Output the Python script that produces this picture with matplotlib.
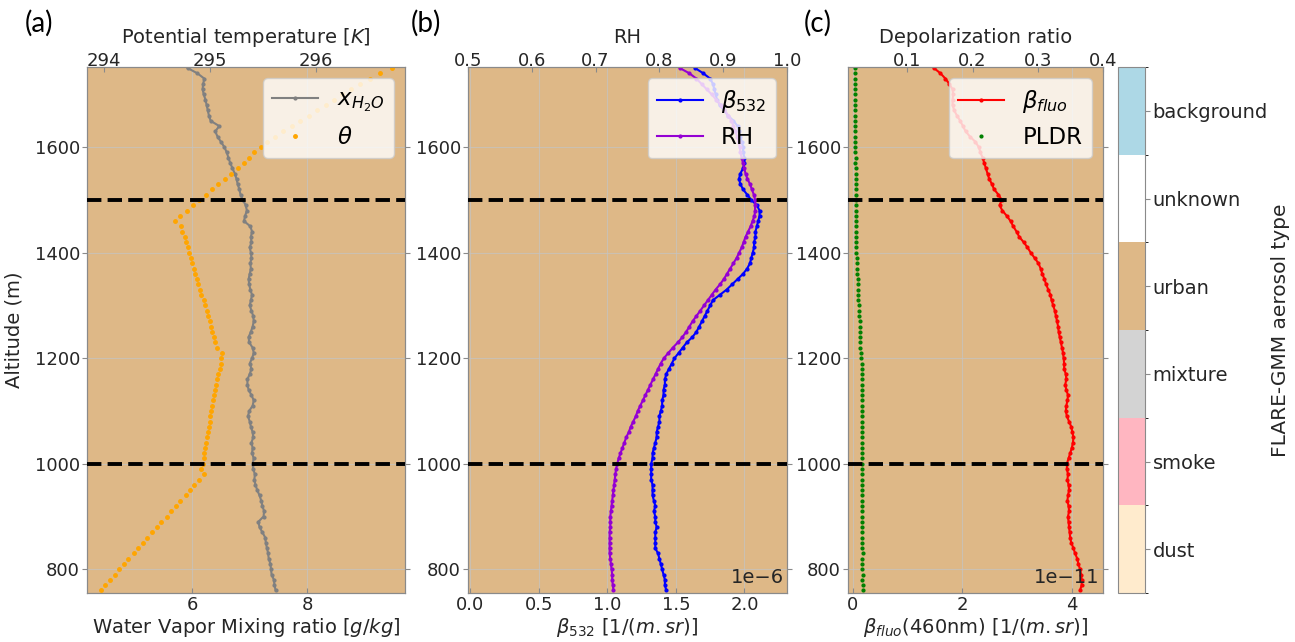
import numpy as np
import matplotlib
matplotlib.use("Agg")
import matplotlib.pyplot as plt
from matplotlib.colors import ListedColormap, BoundaryNorm
from matplotlib.cm import ScalarMappable

# ---------------- data ----------------
altitude_m = np.arange(760, 1751, 10)

water_vapor_gkg = [
    7.45, 7.43, 7.42, 7.38, 7.37, 7.36, 7.33, 7.32, 7.30, 7.28,
    7.27, 7.22, 7.17, 7.15, 7.24, 7.25, 7.22, 7.20, 7.17, 7.13,
    7.10, 7.08, 7.09, 7.06, 7.05, 7.07, 7.04, 7.05, 7.03, 7.06,
    7.05, 7.02, 7.00, 6.97, 6.99, 7.05, 7.07, 7.03, 6.98, 6.96,
    6.96, 7.00, 7.03, 7.00, 7.04, 7.07, 7.05, 6.99, 6.98, 7.02,
    7.05, 7.07, 7.06, 7.03, 7.00, 7.02, 7.04, 7.01, 6.99, 6.98,
    7.00, 7.02, 7.01, 7.03, 7.02, 7.00, 7.03, 7.02, 7.04, 7.01,
    6.90, 6.92, 6.95, 6.93, 6.88, 6.84, 6.82, 6.79, 6.77, 6.74,
    6.70, 6.66, 6.63, 6.60, 6.56, 6.50, 6.44, 6.40, 6.47, 6.32,
    6.29, 6.27, 6.25, 6.23, 6.20, 6.18, 6.19, 6.21, 6.09, 5.92,
]

theta_K = [
    293.97, 294.01, 294.06, 294.10, 294.14, 294.19, 294.23, 294.28, 294.32, 294.37,
    294.41, 294.45, 294.50, 294.54, 294.59, 294.63, 294.68, 294.72, 294.77, 294.81,
    294.85, 294.90, 294.94, 294.92, 294.93, 294.94, 294.94, 294.95, 294.96, 294.97,
    294.98, 294.99, 295.00, 295.00, 295.01, 295.02, 295.03, 295.04, 295.05, 295.06,
    295.07, 295.08, 295.09, 295.10, 295.10, 295.11, 295.07, 295.05, 295.04, 295.02,
    295.01, 295.00, 294.98, 294.97, 294.95, 294.94, 294.92, 294.91, 294.89, 294.88,
    294.86, 294.85, 294.83, 294.82, 294.80, 294.79, 294.77, 294.76, 294.74, 294.73,
    294.67, 294.72, 294.78, 294.84, 294.90, 294.96, 295.02, 295.08, 295.14, 295.20,
    295.26, 295.32, 295.37, 295.42, 295.48, 295.54, 295.61, 295.69, 295.77, 295.85,
    295.93, 296.01, 296.09, 296.17, 296.25, 296.33, 296.42, 296.51, 296.60, 296.72,
]

beta532_e6 = [
    1.43, 1.42, 1.42, 1.41, 1.40, 1.39, 1.38, 1.37, 1.35, 1.35,
    1.35, 1.35, 1.36, 1.35, 1.35, 1.34, 1.35, 1.34, 1.33, 1.33,
    1.33, 1.32, 1.32, 1.32, 1.32, 1.33, 1.33, 1.34, 1.35, 1.36,
    1.36, 1.37, 1.38, 1.38, 1.39, 1.40, 1.40, 1.41, 1.41, 1.42,
    1.42, 1.43, 1.45, 1.47, 1.49, 1.52, 1.55, 1.58, 1.62, 1.65,
    1.67, 1.69, 1.71, 1.73, 1.75, 1.77, 1.82, 1.87, 1.91, 1.95,
    1.99, 2.02, 2.04, 2.05, 2.06, 2.07, 2.07, 2.08, 2.08, 2.09,
    2.10, 2.11, 2.11, 2.09, 2.05, 2.02, 1.99, 1.97, 1.96, 1.97,
    1.99, 2.00, 2.00, 1.99, 1.99, 1.98, 1.97, 1.96, 1.95, 1.92,
    1.88, 1.85, 1.82, 1.80, 1.79, 1.78, 1.77, 1.75, 1.70, 1.64,
]

rh = [
    0.728, 0.727, 0.726, 0.726, 0.725, 0.724, 0.723, 0.722, 0.722, 0.722,
    0.722, 0.722, 0.723, 0.723, 0.723, 0.724, 0.725, 0.726, 0.727, 0.728,
    0.729, 0.730, 0.731, 0.732, 0.734, 0.736, 0.739, 0.742, 0.745, 0.748,
    0.752, 0.755, 0.759, 0.763, 0.766, 0.770, 0.774, 0.778, 0.782, 0.786,
    0.790, 0.794, 0.798, 0.802, 0.807, 0.814, 0.821, 0.829, 0.836, 0.842,
    0.847, 0.852, 0.858, 0.864, 0.870, 0.876, 0.882, 0.888, 0.895, 0.901,
    0.906, 0.911, 0.916, 0.921, 0.925, 0.929, 0.932, 0.935, 0.939, 0.943,
    0.946, 0.949, 0.950, 0.950, 0.950, 0.948, 0.945, 0.942, 0.938, 0.935,
    0.933, 0.931, 0.929, 0.927, 0.926, 0.924, 0.922, 0.919, 0.916, 0.913,
    0.908, 0.902, 0.896, 0.889, 0.882, 0.874, 0.866, 0.858, 0.847, 0.832,
]

beta_fluo_e11 = [
    4.15, 4.18, 4.18, 4.17, 4.15, 4.12, 4.10, 4.06, 4.03, 3.99,
    3.97, 3.96, 3.95, 3.94, 3.93, 3.95, 3.94, 3.92, 3.93, 3.95,
    3.94, 3.92, 3.93, 3.91, 3.91, 3.94, 3.97, 4.00, 4.02, 4.03,
    4.01, 3.99, 3.95, 3.91, 3.89, 3.90, 3.92, 3.93, 3.90, 3.88,
    3.90, 3.89, 3.86, 3.86, 3.85, 3.84, 3.82, 3.80, 3.78, 3.76,
    3.75, 3.73, 3.71, 3.69, 3.66, 3.63, 3.61, 3.57, 3.53, 3.50,
    3.46, 3.43, 3.39, 3.32, 3.25, 3.19, 3.12, 3.04, 2.99, 2.93,
    2.88, 2.81, 2.73, 2.68, 2.72, 2.66, 2.58, 2.54, 2.49, 2.46,
    2.43, 2.40, 2.37, 2.33, 2.30, 2.24, 2.14, 2.06, 2.01, 1.96,
    1.90, 1.85, 1.82, 1.82, 1.83, 1.82, 1.76, 1.69, 1.60, 1.48,
]

pldr = [
    0.032, 0.032, 0.031, 0.032, 0.031, 0.031, 0.031, 0.032, 0.031, 0.031,
    0.031, 0.031, 0.031, 0.031, 0.030, 0.031, 0.031, 0.030, 0.031, 0.031,
    0.031, 0.030, 0.030, 0.031, 0.030, 0.030, 0.031, 0.030, 0.030, 0.030,
    0.030, 0.030, 0.031, 0.030, 0.030, 0.030, 0.030, 0.030, 0.030, 0.030,
    0.030, 0.030, 0.030, 0.030, 0.029, 0.029, 0.028, 0.028, 0.028, 0.027,
    0.027, 0.027, 0.026, 0.026, 0.026, 0.025, 0.025, 0.024, 0.024, 0.024,
    0.023, 0.023, 0.023, 0.023, 0.022, 0.022, 0.022, 0.022, 0.021, 0.021,
    0.021, 0.021, 0.021, 0.021, 0.021, 0.021, 0.021, 0.021, 0.021, 0.021,
    0.021, 0.020, 0.021, 0.020, 0.020, 0.020, 0.020, 0.020, 0.020, 0.020,
    0.020, 0.020, 0.020, 0.020, 0.020, 0.020, 0.020, 0.020, 0.020, 0.020,
]

boundary_layers_m = [1000, 1500]

aerosol_types = ["dust", "smoke", "mixture", "urban", "unknown", "background"]
aerosol_colors = ["#ffebcd", "#ffb6c1", "#d3d3d3", "#deb887", "#ffffff", "#add8e6"]

# ---------------- style ----------------
plt.rcParams["font.family"] = ["DejaVu Sans"]
TXT = "#262626"
SPINE = "#8a8a8a"
TICK_FS = 13
LAB_FS = 14
LEG_FS = 16.5
URBAN_BG = "#deb887"

fig = plt.figure(figsize=(12.95, 6.42), dpi=100)

bottom = 1 - 593 / 642
height = (593 - 67) / 642
ax_a = fig.add_axes([87 / 1295, bottom, 318 / 1295, height])
ax_b = fig.add_axes([468 / 1295, bottom, 319 / 1295, height])
ax_c = fig.add_axes([848 / 1295, bottom, 255 / 1295, height])
cax = fig.add_axes([1118 / 1295, bottom, 27 / 1295, height])


def style(ax, ax2):
    ax.set_facecolor(URBAN_BG)
    ax.grid(True, color="#c4c4c4", lw=0.8, alpha=0.7)
    ax.set_axisbelow(True)
    ax.set_ylim(755, 1752)
    ax.set_yticks([800, 1000, 1200, 1400, 1600])
    ax.tick_params(axis="y", left=True, right=True, direction="out", pad=1.5,
                   labelsize=TICK_FS, colors=TXT, color=SPINE)
    ax.tick_params(axis="x", direction="in", pad=2.5, labelsize=TICK_FS,
                   colors=TXT, color=SPINE)
    ax2.tick_params(axis="x", direction="in", pad=-2, labelsize=TICK_FS,
                    colors=TXT, color=SPINE)
    for a in (ax, ax2):
        for s in a.spines.values():
            s.set_color(SPINE)
    for y in boundary_layers_m:
        ax2.axhline(y, color="black", ls="--", lw=2.8, zorder=3)


# ---- panel (a)
ax_a2 = ax_a.twiny()
style(ax_a, ax_a2)
l1, = ax_a.plot(water_vapor_gkg, altitude_m, color="gray", marker=".", ms=4, lw=1.5,
                label=r"$x_{H_2O}$")
l2, = ax_a2.plot(theta_K, altitude_m, color="orange", marker=".", ms=5, ls="none",
                 label=r"$\theta$")
ax_a.set_xlim(4.17, 9.70)
ax_a.set_xticks([6, 8])
ax_a2.set_xlim(293.84, 296.84)
ax_a2.set_xticks([294, 295, 296])
ax_a.set_xlabel(r"Water Vapor Mixing ratio [$g/kg$]", fontsize=LAB_FS, color=TXT, labelpad=1)
ax_a2.set_xlabel(r"Potential temperature [$K$]", fontsize=LAB_FS, color=TXT, labelpad=6)
ax_a.set_ylabel("Altitude (m)", fontsize=LAB_FS, color=TXT, labelpad=8)
ax_a2.legend(handles=[l1, l2], loc="upper right", fontsize=LEG_FS, borderaxespad=0.5,
             framealpha=0.8)

# ---- panel (b)
ax_b2 = ax_b.twiny()
style(ax_b, ax_b2)
l3, = ax_b.plot(beta532_e6, altitude_m, color="blue", marker=".", ms=4, lw=1.5,
                label=r"$\beta_{532}$")
l4, = ax_b2.plot(rh, altitude_m, color="darkviolet", marker=".", ms=4, lw=1.5, label="RH")
ax_b.set_xlim(-0.015, 2.31)
ax_b.set_xticks([0.0, 0.5, 1.0, 1.5, 2.0])
ax_b2.set_xlim(0.5, 1.0)
ax_b2.set_xticks([0.5, 0.6, 0.7, 0.8, 0.9, 1.0])
ax_b.set_xlabel(r"$\beta_{532}$ [1/($m.sr$)]", fontsize=LAB_FS, color=TXT, labelpad=1)
ax_b2.set_xlabel("RH", fontsize=LAB_FS, color=TXT, labelpad=6)
ax_b.text(0.99, 0.03, "1e\u22126", transform=ax_b.transAxes, ha="right", va="center",
          fontsize=14, color=TXT)
ax_b2.legend(handles=[l3, l4], loc="upper right", fontsize=LEG_FS, borderaxespad=0.5,
             framealpha=0.8)

# ---- panel (c)
ax_c2 = ax_c.twiny()
style(ax_c, ax_c2)
l5, = ax_c.plot(beta_fluo_e11, altitude_m, color="red", marker=".", ms=4, lw=1.5,
                label=r"$\beta_{fluo}$")
l6, = ax_c2.plot(pldr, altitude_m, color="green", marker=".", ms=4, ls="none",
                 label="PLDR")
ax_c.set_xlim(-0.09, 4.57)
ax_c.set_xticks([0, 2, 4])
ax_c2.set_xlim(0.009, 0.4)
ax_c2.set_xticks([0.1, 0.2, 0.3, 0.4])
ax_c.set_xlabel(r"$\beta_{fluo}$(460nm) [1/($m.sr$)]", fontsize=LAB_FS, color=TXT, labelpad=1)
ax_c2.set_xlabel("Depolarization ratio", fontsize=LAB_FS, color=TXT, labelpad=6)
ax_c.text(0.985, 0.03, "1e\u221211", transform=ax_c.transAxes, ha="right", va="center",
          fontsize=14, color=TXT)
ax_c2.legend(handles=[l5, l6], loc="upper right", fontsize=LEG_FS, borderaxespad=0.5,
             framealpha=0.8)

# ---- colorbar
cmap = ListedColormap(aerosol_colors)
norm = BoundaryNorm(np.arange(len(aerosol_types) + 1), len(aerosol_types))
cb = fig.colorbar(ScalarMappable(norm=norm, cmap=cmap), cax=cax,
                  ticks=np.arange(len(aerosol_types)) + 0.5)
cb.set_ticklabels(aerosol_types)
cb.ax.tick_params(labelsize=14, colors=TXT, color=SPINE, pad=2)
cb.outline.set_edgecolor(SPINE)
cb.set_label("FLARE-GMM aerosol type", fontsize=14.5, color=TXT, labelpad=2)

# ---- panel labels
for x, lab in [(25 / 1295, "(a)"), (411 / 1295, "(b)"), (804 / 1295, "(c)")]:
    fig.text(x, 1 - 23 / 642, lab, fontsize=20, family=["Lato", "DejaVu Sans"],
             color="black", ha="left", va="center")

fig.savefig("out.png", dpi=100)
